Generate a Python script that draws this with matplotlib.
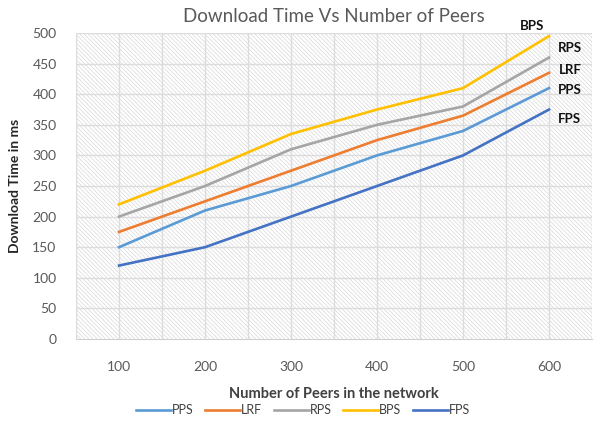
import matplotlib
matplotlib.use('Agg')
import matplotlib.pyplot as plt
from matplotlib.patches import Rectangle
import numpy as np

# dados
peers = ['100', '200', '300', '400', '500', '600']
pps = [150, 210, 250, 300, 340, 410]
lrf = [175, 225, 275, 325, 365, 435]
rps = [200, 250, 310, 350, 380, 460]
bps = [220, 275, 335, 375, 410, 495]
fps = [120, 150, 200, 250, 300, 375]

series = [('PPS', pps, '#5B9BD5'), ('LRF', lrf, '#ED7D31'), ('RPS', rps, '#A5A5A5'),
          ('BPS', bps, '#FFC000'), ('FPS', fps, '#4472C4')]

plt.rcParams['font.family'] = ['Lato', 'DejaVu Sans']
plt.rcParams['hatch.linewidth'] = 0.5
plt.rcParams['hatch.color'] = '#d8d8d8'

fig = plt.figure(figsize=(6, 4.22), dpi=100)
ax = fig.add_axes([0.1267, 0.1967, 0.86, 0.725])

x = np.arange(len(peers))
ax.set_xlim(-0.5, len(peers) - 0.5)
ax.set_ylim(0, 500)

# fundo hachurado
ax.add_patch(Rectangle((0, 0), 1, 1, transform=ax.transAxes, facecolor='white',
                       edgecolor='#d8d8d8', hatch='\\' * 8, lw=0, zorder=0))

for v in np.arange(50, 501, 50):
    ax.axhline(v, color='#dcdcdc', lw=1, zorder=1)
for v in np.arange(-0.5, len(peers), 0.5):
    ax.axvline(v, color='#dcdcdc', lw=1, zorder=1)

for nome, vals, cor in series:
    ax.plot(x, vals, color=cor, lw=1.9, label=nome, zorder=3)

# rotulos no fim das linhas
offsets = {'BPS': (-12, 7), 'RPS': (15, 6.5), 'LRF': (15, 2), 'PPS': (15, -1), 'FPS': (15, -6.5)}
for nome, vals, cor in series:
    ax.annotate(nome, (x[-1], vals[-1]), xytext=offsets[nome], textcoords='offset points',
                ha='center', va='center', fontsize=9.5, fontweight='bold', color='#111111')

for s in ['top', 'right', 'left']:
    ax.spines[s].set_visible(False)
ax.spines['bottom'].set_color('#d0d0d0')

ax.set_xticks(x)
ax.set_xticklabels(peers)
ax.set_yticks(np.arange(0, 501, 50))
ax.tick_params(axis='both', length=0, colors='#595959', labelsize=10)
ax.tick_params(axis='x', pad=16)
ax.tick_params(axis='y', pad=14)

ax.set_title('Download Time Vs Number of Peers', fontsize=13.5, color='#595959', pad=8)
ax.set_ylabel('Download Time in ms', fontsize=10, fontweight='bold', color='#262626', labelpad=8)
ax.set_xlabel('Number of Peers in the network', fontsize=10.5, fontweight='bold', color='#404040', labelpad=10)

ax.legend(loc='center', bbox_to_anchor=(0.44, -0.232), ncol=5, frameon=False,
          fontsize=9, handlelength=2.8, handletextpad=0.1, columnspacing=0.9,
          labelcolor='#404040', borderpad=0, borderaxespad=0)

fig.savefig('out.png', dpi=100)
